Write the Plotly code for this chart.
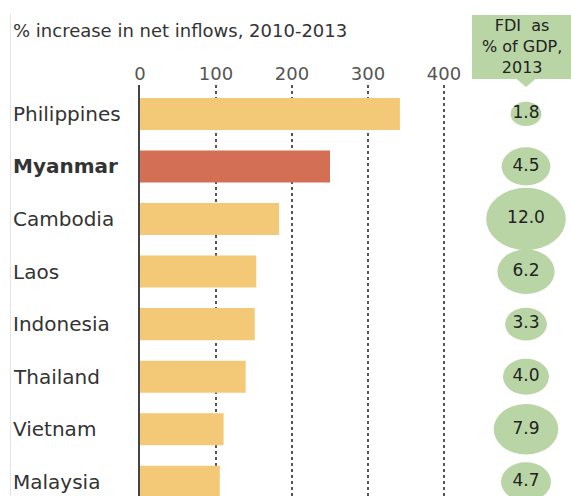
import plotly.graph_objects as go
import math

countries = ["Philippines", "Myanmar", "Cambodia", "Laos", "Indonesia", "Thailand", "Vietnam", "Malaysia"]
increase = [342, 250, 183, 153, 151, 139, 110, 105]
fdi_gdp = [1.8, 4.5, 12.0, 6.2, 3.3, 4.0, 7.9, 4.7]
highlight = "Myanmar"
tick_vals = [0, 100, 200, 300, 400]
title_text = "% increase in net inflows, 2010-2013"
header_text = "FDI  as<br>% of GDP,<br>2013"

W, H = 571, 496
FONT = "DejaVu Sans"
YELLOW = "#f3c977"
RED = "#d36f55"
GREEN = "#b9d5a5"

top_px = 85
x0_px, x1_px = 140, 460
px_per_unit = 0.76
y_top, y_bot = -0.55, 7.27
row_px = (H - top_px) / (y_bot - y_top)

fig = go.Figure()
fig.add_trace(go.Bar(
    x=increase, y=countries, orientation="h",
    marker=dict(color=[RED if c == highlight else YELLOW for c in countries], line=dict(width=0)),
    width=0.61, hoverinfo="x+y", showlegend=False,
))

# bubbles on a full-width pixel-like axis
BX = 526
shapes = []
for i, (c, v) in enumerate(zip(countries, fdi_gdp)):
    w = 23 * math.sqrt(v)
    h = 18 * math.sqrt(v) / row_px
    shapes.append(dict(type="circle", xref="x2", yref="y", x0=BX - w / 2, x1=BX + w / 2,
                       y0=i - h / 2, y1=i + h / 2, fillcolor=GREEN, line=dict(width=0), layer="below"))

fig.add_trace(go.Scatter(
    x=[BX] * len(countries), y=countries, xaxis="x2", mode="text",
    text=[f"{v:.1f}" for v in fdi_gdp], textfont=dict(family=FONT, size=17, color="#222"),
    showlegend=False, hoverinfo="skip", cliponaxis=False,
))

def py(p):
    return 1 - p / H

# header box and pointer
shapes.append(dict(type="rect", xref="paper", yref="paper", x0=472 / W, x1=1, y0=py(79), y1=py(15),
                   fillcolor=GREEN, line=dict(width=0)))
shapes.append(dict(type="path", xref="paper", yref="paper",
                   path=f"M {516 / W} {py(78.5)} L {536 / W} {py(78.5)} L {526 / W} {py(87)} Z",
                   fillcolor=GREEN, line=dict(width=0)))
# faint left rule
shapes.append(dict(type="line", xref="paper", yref="paper", x0=10.5 / W, x1=10.5 / W, y0=0, y1=py(14),
                   line=dict(color="#e4e4e4", width=1)))

annotations = [
    dict(text=title_text, xref="paper", yref="paper", x=11 / W, y=py(30), xanchor="left", yanchor="middle",
         showarrow=False, font=dict(family=FONT, size=18, color="#333")),
    dict(text=header_text, xref="paper", yref="paper", x=522 / W, y=py(46), xanchor="center", yanchor="middle",
         showarrow=False, align="center", font=dict(family=FONT, size=16, color="#222")),
]
for c in countries:
    annotations.append(dict(
        text=f"<b>{c}</b>" if c == highlight else c, xref="paper", yref="y", x=11 / W, y=c,
        xanchor="left", yanchor="middle", showarrow=False, font=dict(family=FONT, size=20, color="#333")))

fig.update_layout(
    width=W, height=H, margin=dict(l=0, r=0, t=0, b=0, autoexpand=False),
    paper_bgcolor="white", plot_bgcolor="rgba(0,0,0,0)",
    font=dict(family=FONT),
    xaxis=dict(domain=[x0_px / W, x1_px / W], range=[0, (x1_px - x0_px) / px_per_unit], side="top",
               tickvals=tick_vals, tickfont=dict(size=18, color="#555"), showgrid=True, gridcolor="#555",
               griddash="dot", gridwidth=1.5, zeroline=False, showline=False, ticks="", automargin=False),
    xaxis2=dict(domain=[0, 1], range=[0, W], anchor="y", visible=False),
    yaxis=dict(domain=[0, 1 - top_px / H], categoryorder="array", categoryarray=countries,
               range=[y_bot, y_top], showticklabels=False, automargin=False,
               showgrid=False, zeroline=False, showline=True, linecolor="#444", linewidth=2, ticks=""),
    shapes=shapes, annotations=annotations, bargap=0.4,
)
fig.write_html("out.html", config={"displayModeBar": False},
               post_script="document.body.style.margin='0';document.body.style.overflow='hidden';")
